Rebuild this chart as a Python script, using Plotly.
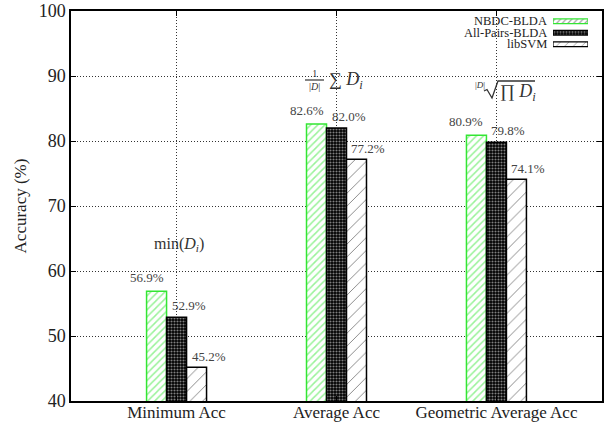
import plotly.graph_objects as go

categories = ["Minimum Acc", "Average Acc", "Geometric Average Acc"]
series_names = ["NBDC-BLDA", "All-Pairs-BLDA", "libSVM"]
nbdc = [56.9, 82.6, 80.9]
allpairs = [52.9, 82.0, 79.8]
libsvm = [45.2, 77.2, 74.1]
y_ticks = [40, 50, 60, 70, 80, 90, 100]

FONT = "Liberation Serif"
GREEN = "#33e633"
TXT = "#222222"
W, H = 607, 423
ML, MR, MT, MB = 71, 5, 11, 22
PW, PH = W - ML - MR, H - MT - MB


def px(x, y):
    """page pixel -> paper fraction (layout helper for decorations only)"""
    return (x - ML) / PW, (H - MB - y) / PH


styles = [
    dict(line="#33e633", bg="white", shape="/", fg=GREEN, size=5, sol=0.3),
    dict(line="black", bg="black", shape=".", fg="white", size=3, sol=0.4),
    dict(line="black", bg="white", shape="/", fg="black", size=9, sol=0.1),
]

fig = go.Figure()
all_series = [nbdc, allpairs, libsvm]
for name, vals, st in zip(series_names, all_series, styles):
    fig.add_trace(go.Bar(
        x=categories, y=vals, name=name, showlegend=False,
        marker=dict(color=st["bg"], line=dict(color=st["line"], width=1.5),
                    pattern=dict(shape=st["shape"], fgcolor=st["fg"], bgcolor=st["bg"],
                                 size=st["size"], solidity=st["sol"])),
    ))

# custom legend (text left of swatch, like the reference)
fig.add_trace(go.Bar(
    x=[1] * len(series_names), y=series_names, orientation="h",
    xaxis="x2", yaxis="y2", showlegend=False, hoverinfo="skip", width=0.4,
    marker=dict(color=[s["bg"] for s in styles],
                line=dict(color=[s["line"] for s in styles], width=1.2),
                pattern=dict(shape=[s["shape"] for s in styles],
                             fgcolor=[s["fg"] for s in styles],
                             bgcolor=[s["bg"] for s in styles],
                             size=[4, 3, 6], solidity=[0.3, 0.4, 0.15])),
))
for name in series_names:
    fig.add_annotation(x=0, y=name, xref="x2", yref="y2", text=name, showarrow=False,
                       xanchor="right", yanchor="middle", xshift=-4,
                       font=dict(family=FONT, size=12.5, color=TXT))

# value labels
bar_w = 0.125
label_shift = [(-10, 14), (12, 12), (12, 11)]
for k, vals in enumerate(all_series):
    for i, v in enumerate(vals):
        fig.add_annotation(
            x=i + (k - 1) * bar_w, y=v, xref="x", yref="y",
            text=f"{v:.1f}%", showarrow=False,
            xanchor="center", yanchor="middle",
            xshift=label_shift[k][0], yshift=label_shift[k][1],
            font=dict(family=FONT, size=13, color="#444444"),
        )

MATH = dict(family=FONT, color="#333333")


def note(x, y, text, size, anchor="center"):
    ax, ay = px(x, y)
    fig.add_annotation(x=ax, y=ay, xref="paper", yref="paper", showarrow=False,
                       xanchor=anchor, yanchor="middle", text=text,
                       font=dict(size=size, **MATH))


def path(points, width):
    pts = [px(x, y) for x, y in points]
    d = "M" + " L".join(f"{a:.5f},{b:.5f}" for a, b in pts)
    fig.add_shape(type="path", xref="paper", yref="paper", path=d,
                  line=dict(color="#333333", width=width))


# min(D_i)
note(179, 244, "min(<i>D<sub>i</sub></i>)", 16)
# (1/|D|) sum D_i
note(314, 80, "1<br>|<i>D</i>|", 10)
path([(305, 80), (324, 80)], 1.2)
note(327, 80, "&#8721; <i>D<sub>i</sub></i>", 18, "left")
# |D|-th root of prod D_i
note(480, 85, "|<i>D</i>|", 9)
path([(484, 91), (487, 89.5), (492, 98), (498, 81), (535, 81)], 1.3)
note(498, 92, "&#8719; <i>D<sub>i</sub></i>", 18, "left")

lx0, _ = px(553, 0)
lx1, _ = px(588, 0)
_, ly1 = px(0, 15.5)
_, ly0 = px(0, 50.0)

fig.update_layout(
    width=W, height=H,
    margin=dict(l=ML, r=MR, t=MT, b=MB),
    paper_bgcolor="white", plot_bgcolor="white",
    barmode="group", bargap=0.625, bargroupgap=0,
    font=dict(family=FONT, size=18, color=TXT),
    showlegend=False,
    xaxis2=dict(domain=[lx0, lx1], anchor="y2", range=[0, 1],
                visible=False, fixedrange=True),
    yaxis2=dict(domain=[ly0, ly1], anchor="x2", visible=False, fixedrange=True,
                type="category", categoryorder="array",
                categoryarray=list(reversed(series_names)), range=[-0.5, 2.5]),
    xaxis=dict(
        type="category", range=[-0.66, 2.66],
        showline=True, linecolor="black", linewidth=1.5, mirror="ticks",
        ticks="inside", ticklen=5, tickcolor="black",
        showgrid=True, gridcolor="#333333", griddash="1px,2px", gridwidth=1,
        tickfont=dict(family=FONT, size=17, color=TXT),
        ticklabelstandoff=-5,
        automargin=False,
    ),
    yaxis=dict(
        range=[40, 100], tickvals=y_ticks,
        showline=True, linecolor="black", linewidth=1.5, mirror="ticks",
        ticks="inside", ticklen=5, tickcolor="black",
        showgrid=True, gridcolor="#333333", griddash="1px,2px", gridwidth=1,
        zeroline=False,
        tickfont=dict(family=FONT, size=18, color=TXT),
        title=dict(text="Accuracy (%)", font=dict(family=FONT, size=17, color=TXT), standoff=8),
        automargin=False,
    ),
)

fig.write_html("out.html", config={"displayModeBar": False},
               post_script="document.body.style.margin='0';")
